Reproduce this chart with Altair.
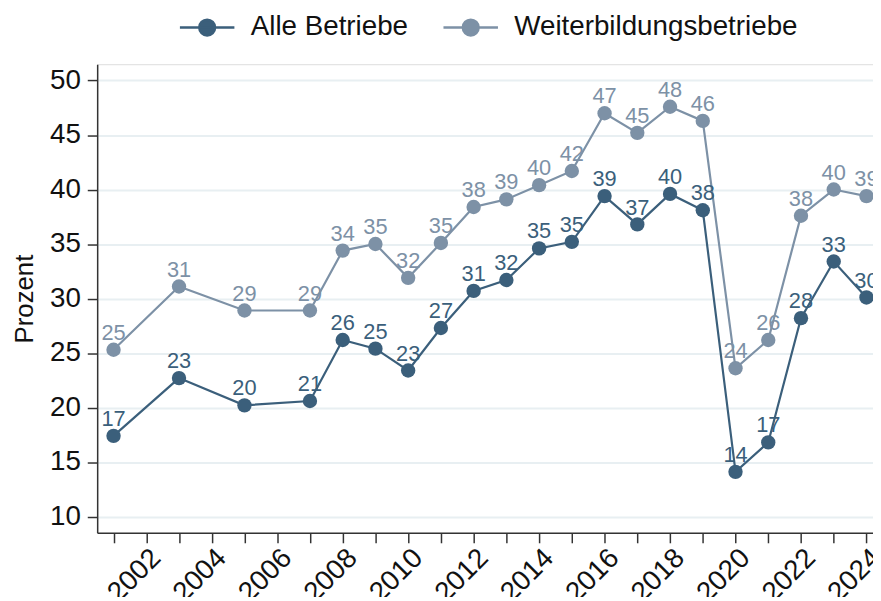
import altair as alt
import pandas as pd

years = [2001, 2003, 2005, 2007, 2008, 2009, 2010, 2011, 2012, 2013, 2014,
         2015, 2016, 2017, 2018, 2019, 2020, 2021, 2022, 2023, 2024]
alle = [17.4, 22.7, 20.2, 20.6, 26.2, 25.4, 23.4, 27.3, 30.7, 31.7, 34.6,
        35.2, 39.4, 36.8, 39.6, 38.1, 14.1, 16.8, 28.2, 33.4, 30.1]
weiter = [25.3, 31.1, 28.9, 28.9, 34.4, 35.0, 31.9, 35.1, 38.4, 39.1, 40.4,
          41.7, 47.0, 45.2, 47.6, 46.3, 23.6, 26.2, 37.6, 40.0, 39.4]
series_names = ["Alle Betriebe", "Weiterbildungsbetriebe"]
series_colors = ["#3b5f7b", "#7d91a6"]
tick_years = list(range(2001, 2025))
y_ticks = [10, 15, 20, 25, 30, 35, 40, 45, 50]

rows = []
for name, vals in zip(series_names, [alle, weiter]):
    for yr, v in zip(years, vals):
        rows.append({"Jahr": yr, "Wert": v, "Serie": name})
df = pd.DataFrame(rows)

FONT = "Liberation Sans"
sym_path = ("M -1 0 L 1 0 M -0.29 0 A 0.29 0.29 0 1 0 0.29 0 "
            "A 0.29 0.29 0 1 0 -0.29 0 Z")
legend = alt.Legend(
    title=None, orient="none", direction="horizontal",
    legendX=82, legendY=-66, padding=0,
    symbolType=sym_path, symbolSize=3025, symbolStrokeWidth=2.5,
    symbolOpacity=1,
    labelFontSize=28, labelFont=FONT, labelColor="#111111", labelLimit=0,
    labelOffset=15, columnPadding=30,
)
cscale = alt.Scale(domain=series_names, range=series_colors)

x_enc = alt.X(
    "Jahr:Q",
    scale=alt.Scale(domain=[2000.5, 2024.2], nice=False, zero=False),
    axis=alt.Axis(
        values=tick_years, format="d",
        labelExpr="datum.value % 2 == 0 ? datum.label : ''",
        labelAngle=-45, labelAlign="right", labelBaseline="top",
        labelOverlap=False, labelFlush=False,
        tickSize=10, tickWidth=1.5, tickColor="#333333",
        domainColor="#333333", domainWidth=1.5,
        labelFontSize=28, labelFont=FONT, labelColor="#111111",
        labelPadding=1, grid=False, title=None,
    ),
)
y_enc = alt.Y(
    "Wert:Q",
    scale=alt.Scale(domain=[8.5, 51.5], nice=False, zero=False),
    axis=alt.Axis(
        values=y_ticks, tickSize=10, tickWidth=1.5, tickColor="#333333",
        domainColor="#333333", domainWidth=1.5,
        labelFontSize=28, labelFont=FONT, labelColor="#111111",
        labelPadding=7, grid=True, gridColor="#e8eff2", gridWidth=2,
        title="Prozent", titleFontSize=26, titleFont=FONT,
        titleFontWeight="normal", titleColor="#111111", titlePadding=12,
    ),
)

base = alt.Chart(df)
lines = base.mark_line(strokeWidth=2.2, opacity=1).encode(
    x=x_enc, y=y_enc,
    stroke=alt.Stroke("Serie:N", scale=cscale, legend=legend),
    detail="Serie:N",
)
points = base.mark_point(filled=True, size=210, opacity=1, strokeWidth=0).encode(
    x=x_enc, y=y_enc,
    fill=alt.Fill("Serie:N", scale=cscale, legend=legend),
)
labels = base.mark_text(
    baseline="alphabetic", dy=-10, fontSize=22, font=FONT
).encode(
    x=x_enc, y=y_enc,
    text=alt.Text("Wert:Q", format=".0f"),
    fill=alt.Fill("Serie:N", scale=cscale, legend=legend),
)

chart = alt.layer(lines, points, labels).properties(
    width=783, height=473,
    autosize=alt.AutoSizeParams(type="none"),
    padding={"left": 90, "top": 54, "right": 0, "bottom": 62},
).configure_view(stroke=None).configure(background="white")

chart.save("out.html", embed_options={"renderer": "svg", "actions": False})
